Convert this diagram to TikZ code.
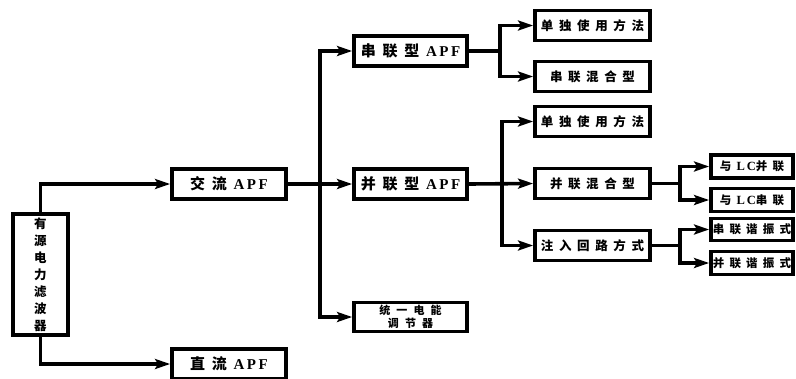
\documentclass[tikz,border=0pt]{standalone}
\usepackage{fontspec}
\setmainfont{Liberation Serif}
\newfontfamily\cjk{Noto Sans CJK SC}
\usetikzlibrary{arrows.meta}
\newcommand\gp{\hspace{0.45em}}
\newcommand\sg{\hspace{0.55em}}
\begin{document}
\begin{tikzpicture}[x=1pt,y=-1pt,
  box/.style={draw,line width=3.8pt,inner sep=0pt,align=center},
  big/.style={box,minimum width=114,minimum height=30,font=\fontsize{15}{17}\selectfont\bfseries},
  mid/.style={box,minimum width=115,minimum height=30,font=\fontsize{12.5}{14}\selectfont\bfseries},
  sml/.style={box,minimum width=82,minimum height=23,font=\fontsize{11.5}{13}\selectfont\bfseries},
  ln/.style={line width=3.6pt},
  arr/.style={line width=3.6pt,-{Stealth[length=15pt,width=10pt,inset=3pt]}}]
\useasboundingbox (0,0) rectangle (796,378);
% nodes
\node[box,minimum width=55,minimum height=121,font=\fontsize{12.5}{17}\selectfont\bfseries] (root) at (40.5,274.5) {\cjk 有\\\cjk 源\\\cjk 电\\\cjk 力\\\cjk 滤\\\cjk 波\\\cjk 器};
\node[big] (ac) at (229,184) {\cjk 交\gp 流\gp\normalfont\bfseries A\,P\,F};
\node[big] (dc) at (229,364) {\cjk 直\gp 流\gp\normalfont\bfseries A\,P\,F};
\node[big,minimum width=113] (ser) at (410.5,51) {\cjk 串\gp 联\gp 型\gp\normalfont\bfseries A\,P\,F};
\node[big,minimum width=113] (par) at (410.5,184) {\cjk 并\gp 联\gp 型\gp\normalfont\bfseries A\,P\,F};
\node[box,minimum width=113,minimum height=29,font=\fontsize{11}{14}\selectfont\bfseries] (upqc) at (410.5,317) {\cjk 统\sg 一\sg 电\sg 能\\[-1pt]\cjk 调\sg 节\sg 器};
\node[mid] (s1) at (592.5,25.5) {\cjk 单\gp 独\gp 使\gp 用\gp 方\gp 法};
\node[mid] (s2) at (592.5,76.5) {\cjk 串\gp 联\gp 混\gp 合\gp 型};
\node[mid] (p1) at (592.5,121.5) {\cjk 单\gp 独\gp 使\gp 用\gp 方\gp 法};
\node[mid] (p2) at (592.5,183.5) {\cjk 并\gp 联\gp 混\gp 合\gp 型};
\node[mid] (p3) at (592.5,245.5) {\cjk 注\gp 入\gp 回\gp 路\gp 方\gp 式};
\node[sml] (q1) at (752,166.5) {\cjk 与\gp{\normalfont\bfseries\fontsize{12.5}{13}\selectfont L\,C}\cjk 并\gp 联};
\node[sml] (q2) at (752,200) {\cjk 与\gp{\normalfont\bfseries\fontsize{12.5}{13}\selectfont L\,C}\cjk 串\gp 联};
\node[sml,minimum height=22] (q3) at (752,229.5) {\cjk 串\gp 联\gp 谐\gp 振\gp 式};
\node[sml] (q4) at (752,263) {\cjk 并\gp 联\gp 谐\gp 振\gp 式};
% junctions
\coordinate (j1) at (320,184);
\coordinate (j2) at (500,51);
\coordinate (j3) at (502,184);
\coordinate (j4) at (680,183.5);
\coordinate (j5) at (680,245.5);
% connectors
\draw[arr] (root.north) |- (ac.west);
\draw[arr] (root.south) |- (dc.west);
\draw[arr] (ac.east) -- (par.west);
\draw[arr] (j1) |- (ser.west);
\draw[arr] (j1) |- (upqc.west);
\draw[ln] (ser.east) -- (j2);
\draw[arr] (j2) |- (s1.west);
\draw[arr] (j2) |- (s2.west);
\draw[arr] (par.east) -- (p2.west);
\draw[arr] (j3) |- (p1.west);
\draw[arr] (j3) |- (p3.west);
\draw[ln] (p2.east) -- (j4);
\draw[arr] (j4) |- (q1.west);
\draw[arr] (j4) |- (q2.west);
\draw[ln] (p3.east) -- (j5);
\draw[arr] (j5) |- (q3.west);
\draw[arr] (j5) |- (q4.west);
\end{tikzpicture}
\end{document}
